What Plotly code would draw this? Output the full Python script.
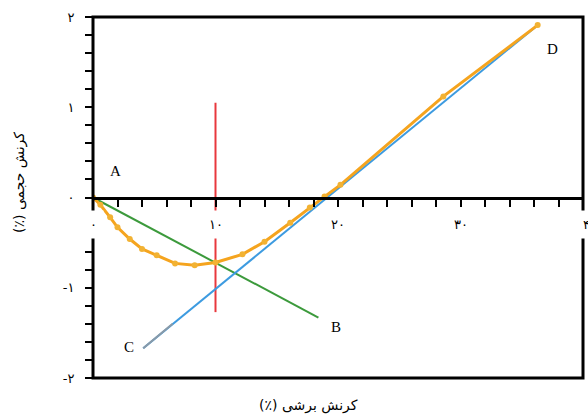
import plotly.graph_objects as go

# orange measured curve (shear strain %, volumetric strain %)
curve_x = [0, 0.6, 1.4, 2.0, 3.0, 4.0, 5.2, 6.7, 8.3, 10.0, 12.2, 14.0, 16.1, 17.7, 18.9, 20.2, 28.6, 36.3]
curve_y = [0, -0.08, -0.22, -0.33, -0.46, -0.57, -0.64, -0.73, -0.75, -0.72, -0.63, -0.49, -0.28, -0.11, 0.01, 0.14, 1.12, 1.91]

# straight reference lines
ab_x = [0, 18.4]
ab_y = [0, -1.33]
cd_x = [4.1, 36.3]
cd_y = [-1.67, 1.91]
cd_grey_x = [4.1, 6.5]
cd_grey_y = [-1.67, -1.40]
red_x = [10, 10]
red_y = [-1.27, 1.05]

point_names = ["A", "B", "C", "D"]
point_x = [1.8, 19.8, 2.9, 37.5]
point_y = [0.29, -1.43, -1.66, 1.64]

x_ticks = [0, 10, 20, 30, 40]
x_tick_text = ["۰", "۱۰", "۲۰", "۳۰", "۴۰"]
y_ticks = [-2, -1, 0, 1, 2]
y_tick_text = ["-۲", "-۱", "۰", "۱", "۲"]

RLM = "\u200f"

fig = go.Figure()

fig.add_trace(go.Scatter(x=red_x, y=red_y, mode="lines",
                         line=dict(color="#e8383d", width=2)))
fig.add_trace(go.Scatter(x=ab_x, y=ab_y, mode="lines",
                         line=dict(color="#3c9a3c", width=2)))
fig.add_trace(go.Scatter(x=cd_x, y=cd_y, mode="lines",
                         line=dict(color="#3d9be0", width=2)))
fig.add_trace(go.Scatter(x=cd_grey_x, y=cd_grey_y, mode="lines",
                         line=dict(color="#8a9aa8", width=2)))
fig.add_trace(go.Scatter(x=curve_x, y=curve_y, mode="lines+markers",
                         line=dict(color="#f5a41e", width=3),
                         marker=dict(color="#f2b233", size=6, symbol="circle")))

fig.update_layout(
    width=588, height=414,
    margin=dict(l=93, r=5, t=17, b=36),
    paper_bgcolor="white", plot_bgcolor="white",
    showlegend=False,
    xaxis=dict(range=[0, 40], anchor="free", position=0.5,
               showline=True, linecolor="black", linewidth=3,
               ticks="outside", dtick=2, tick0=0, ticklen=7, tickwidth=2,
               tickcolor="black", showticklabels=False,
               showgrid=False, zeroline=False),
    yaxis=dict(range=[-2, 2], tickvals=y_ticks, ticktext=y_tick_text,
               ticks="outside", ticklen=7, tickwidth=2, tickcolor="black",
               ticklabelstandoff=8,
               minor=dict(dtick=0.2, tick0=0, ticks="outside", ticklen=7,
                          tickwidth=2, tickcolor="black"),
               tickfont=dict(family="DejaVu Sans", size=13, color="black"),
               showgrid=False, zeroline=False, showline=False),
)

# frame around the plot area
fig.add_shape(type="rect", xref="paper", yref="paper", x0=0, x1=1, y0=0, y1=1,
              line=dict(color="black", width=3), layer="above")

# x tick labels sit under the zero line with a white background
for xv, txt in zip(x_ticks, x_tick_text):
    fig.add_annotation(x=xv, y=-0.3, text=txt, showarrow=False,
                       xanchor="left" if xv == 40 else "center",
                       xshift=-7 if xv == 40 else 0,
                       bgcolor="white", borderpad=6,
                       font=dict(family="DejaVu Sans", size=13, color="black"))

for name, xv, yv in zip(point_names, point_x, point_y):
    fig.add_annotation(x=xv, y=yv, text=name, showarrow=False,
                       font=dict(family="Liberation Serif", size=15, color="black"))

fig.add_annotation(xref="paper", yref="paper", x=0.44, y=-0.075,
                   xanchor="center", yanchor="middle",
                   text="کرنش برشی (٪)" + RLM, showarrow=False,
                   font=dict(family="DejaVu Sans", size=14, color="black"))
fig.add_annotation(xref="paper", yref="paper", x=-0.149, y=0.543, textangle=-90,
                   xanchor="center", yanchor="middle",
                   text="کرنش حجمی (٪)" + RLM, showarrow=False,
                   font=dict(family="DejaVu Sans", size=14, color="black"))

# drop the default page margin so the figure fills the window exactly
fig.write_html("out.html", config={"displayModeBar": False},
               post_script="document.body.style.margin='0';")
